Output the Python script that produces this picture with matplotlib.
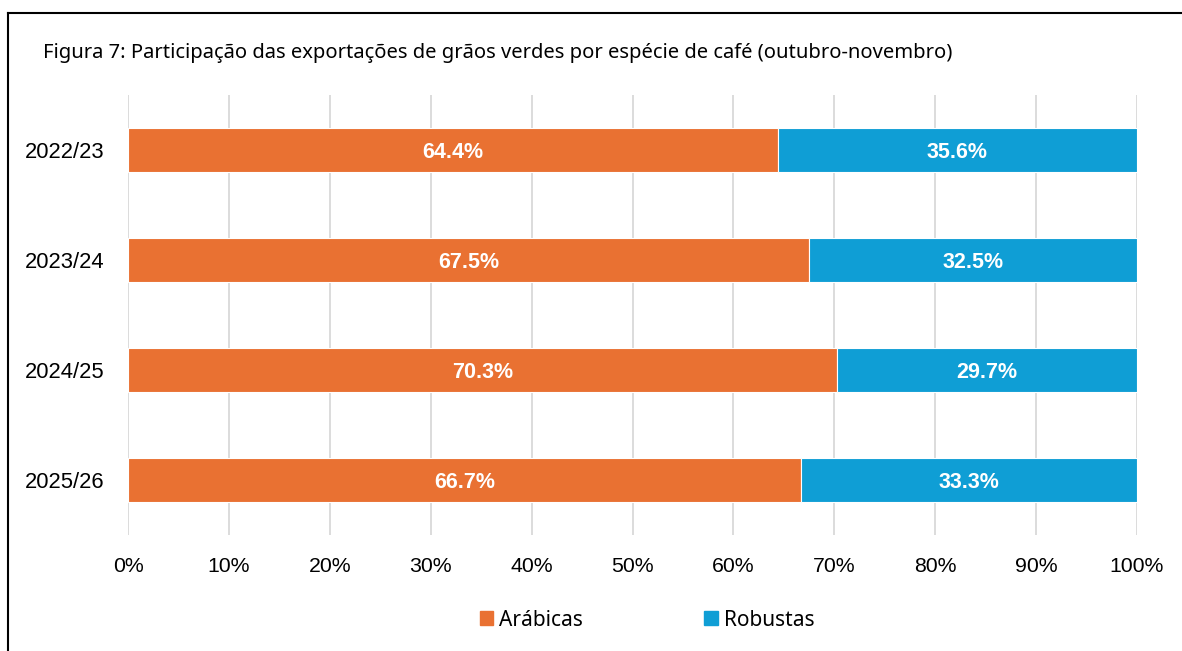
import matplotlib
matplotlib.use('Agg')
import matplotlib.pyplot as plt
from matplotlib.patches import Patch
from matplotlib.lines import Line2D
import numpy as np

# data
safras = ['2022/23', '2023/24', '2024/25', '2025/26']
arabicas = [64.4, 67.5, 70.3, 66.7]
robustas = [35.6, 32.5, 29.7, 33.3]
x_ticks = [0, 10, 20, 30, 40, 50, 60, 70, 80, 90, 100]

cor_arabica = '#E97132'
cor_robusta = '#0F9ED5'

plt.rcParams['font.family'] = ['Liberation Sans', 'DejaVu Sans']

fig = plt.figure(figsize=(11.82, 6.51), dpi=100)
W, H = 1182, 651
ax = fig.add_axes([128 / W, 1 - 535 / H, (1137 - 128) / W, 440 / H])

y = np.arange(len(safras))
ax.barh(y, arabicas, height=0.4, color=cor_arabica, edgecolor='white', linewidth=0.8, zorder=3)
ax.barh(y, robustas, left=arabicas, height=0.4, color=cor_robusta, edgecolor='white', linewidth=0.8, zorder=3)

for i in range(len(safras)):
    ax.text(arabicas[i] / 2, y[i], '{:.1f}%'.format(arabicas[i]), ha='center', va='center_baseline',
            color='white', fontsize=15.5, fontweight='bold', zorder=4)
    ax.text(arabicas[i] + robustas[i] / 2, y[i], '{:.1f}%'.format(robustas[i]), ha='center', va='center_baseline',
            color='white', fontsize=15.5, fontweight='bold', zorder=4)

ax.set_xlim(0, 100)
ax.set_ylim(len(safras) - 0.5, -0.5)
ax.set_yticks(y)
ax.set_yticklabels(safras, fontsize=15.8)
ax.set_xticks(x_ticks)
ax.set_xticklabels(['{}%'.format(t) for t in x_ticks], fontsize=15.3)
ax.tick_params(axis='y', length=0, pad=17)
ax.tick_params(axis='x', length=0, pad=16)
for s in ax.spines.values():
    s.set_visible(False)
ax.grid(axis='x', color='#d9d9d9', linewidth=1.3, zorder=0)
ax.set_axisbelow(True)

fig.text(43 / W, 1 - 53 / H, 'Figura 7: Participação das exportações de grãos verdes por espécie de café (outubro-novembro)',
         fontsize=14.5, family=['Noto Sans', 'DejaVu Sans'], va='center', ha='left')

handles = [Patch(color=cor_arabica, label='Arábicas'), Patch(color=cor_robusta, label='Robustas')]
fig.legend(handles=handles, loc='center', bbox_to_anchor=(647 / W, 1 - 620 / H), ncol=2, frameon=False,
           handlelength=0.65, handleheight=0.65, handletextpad=0.3, columnspacing=5.8,
           prop={'family': ['Noto Sans', 'DejaVu Sans'], 'size': 15})

# frame around the figure (only top and left edges visible)
fig.add_artist(Line2D([7.5 / W, 1], [1 - 12.5 / H, 1 - 12.5 / H], color='black', linewidth=1.5, transform=fig.transFigure))
fig.add_artist(Line2D([7.5 / W, 7.5 / W], [0, 1 - 12.5 / H], color='black', linewidth=1.5, transform=fig.transFigure))

fig.savefig('out.png', dpi=100)
